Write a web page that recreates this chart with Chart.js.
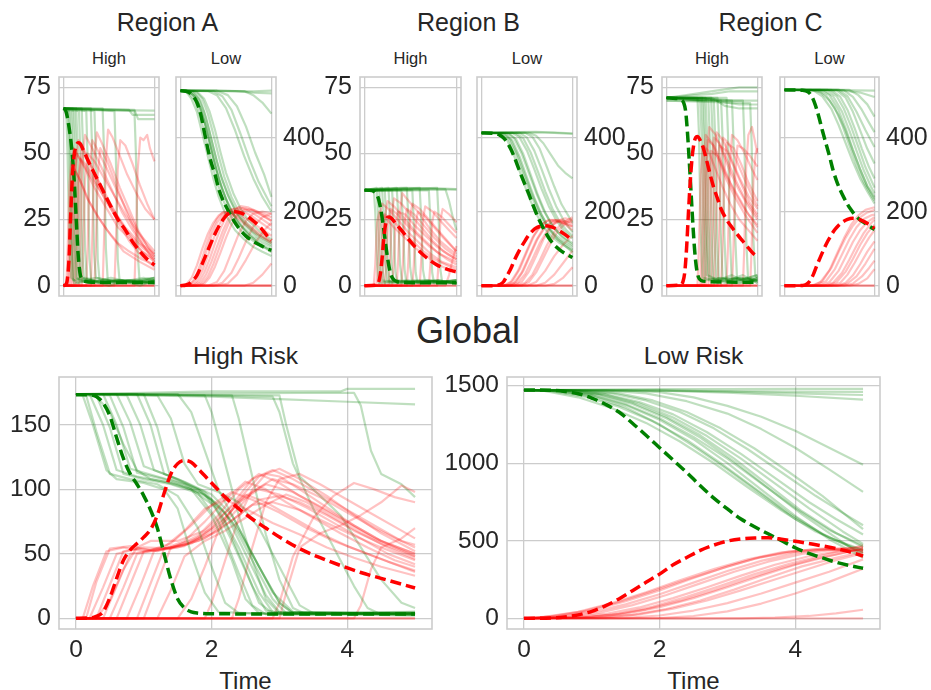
<!DOCTYPE html>
<html>
<head>
<meta charset="utf-8">
<script src="https://cdn.jsdelivr.net/npm/chart.js@4.4.0/dist/chart.umd.min.js"></script>
<style>
  body { margin: 0; width: 931px; height: 690px; background: #fff; position: relative; overflow: hidden;
         font-family: "Liberation Sans", Arial, sans-serif; color: #262626; }
  .t { position: absolute; white-space: nowrap; transform: translateX(-50%); line-height: 1; }
</style>
</head>
<body>
<div class="t" style="left:167.5px;top:10px;font-size:25px">Region A</div>
<div class="t" style="left:468.5px;top:10px;font-size:25px">Region B</div>
<div class="t" style="left:770.5px;top:10px;font-size:25px">Region C</div>
<div class="t" style="left:109px;top:50px;font-size:16.5px">High</div>
<div class="t" style="left:226px;top:50px;font-size:16.5px">Low</div>
<div class="t" style="left:410.5px;top:50px;font-size:16.5px">High</div>
<div class="t" style="left:527px;top:50px;font-size:16.5px">Low</div>
<div class="t" style="left:712px;top:50px;font-size:16.5px">High</div>
<div class="t" style="left:829.5px;top:50px;font-size:16.5px">Low</div>
<div class="t" style="left:468px;top:313px;font-size:36px">Global</div>
<div class="t" style="left:245.5px;top:344px;font-size:24.5px">High Risk</div>
<div class="t" style="left:693.5px;top:344px;font-size:24.5px">Low Risk</div>
<div class="t" style="left:245.5px;top:669px;font-size:24px">Time</div>
<div class="t" style="left:693.5px;top:669px;font-size:24px">Time</div>
<script>
// tick positions
const xTicksTop = [0, 5];
const xTicksBottom = [0, 2, 4];
const yTicksHigh = [0, 25, 50, 75];
const yTicksLow = [0, 200, 400];
const yTicksGlobalHigh = [0, 50, 100, 150];
const yTicksGlobalLow = [0, 500, 1000, 1500];

// every series is a flat list: t, value, t, value, ...
// S = green (susceptible), I = red (infected), mean = dashed curves

// ---- Region A, High ----
const aHighMeanS = [0,67, 0.1,66.5, 0.2,64, 0.3,60, 0.4,55, 0.5,48, 0.6,38, 0.7,25, 0.8,12, 0.9,5, 1.0,2.5, 1.2,1.6, 1.6,1.3, 5,1.2];
const aHighMeanI = [0,0, 0.1,0.3, 0.2,2, 0.3,10, 0.4,28, 0.5,43, 0.6,50, 0.7,53, 0.8,54, 0.9,53.8, 1.1,51, 1.4,46.5, 1.8,41, 2.2,35.5, 2.6,30, 3.0,25, 3.4,21, 3.8,16.5, 4.2,13, 4.6,10, 5.0,7.8];
const aHighS = [
  [0,67, 0.15,66, 0.22,50, 0.32,15, 0.42,3, 0.8,1, 1.5,2, 2.5,0, 3.5,2, 5,1],
  [0,67, 0.25,66, 0.32,52, 0.42,18, 0.52,2, 1.2,3, 2.2,1, 3.2,2, 4.2,0, 5,2],
  [0,67, 0.3,67, 0.38,48, 0.48,12, 0.58,1, 1.5,2, 3,1, 5,3],
  [0,67, 0.4,66, 0.48,50, 0.58,16, 0.68,3, 1.4,1, 2.6,3, 4,1, 5,1],
  [0,67, 0.5,67, 0.58,45, 0.68,10, 0.78,2, 2,1, 3,2, 4.5,1, 5,2],
  [0,67, 0.6,66, 0.68,48, 0.78,14, 0.88,2, 1.8,3, 3.2,1, 5,2],
  [0,67, 0.7,67, 0.78,50, 0.88,15, 0.98,3, 2,1, 3.6,2, 5,1],
  [0,67, 0.85,66, 0.93,48, 1.03,12, 1.13,2, 2.4,2, 4,1, 5,3],
  [0,67, 1.0,67, 1.08,50, 1.18,14, 1.28,2, 2.8,1, 4.4,3, 5,2],
  [0,67, 1.25,66, 1.33,46, 1.43,10, 1.53,1, 3,2, 5,1],
  [0,67, 1.5,67, 1.58,50, 1.68,12, 1.78,3, 3.4,1, 5,2],
  [0,67, 1.7,66, 1.78,48, 1.88,10, 1.98,2, 3.8,2, 5,1],
  [0,67, 2.15,67, 2.23,50, 2.33,14, 2.43,2, 4,2, 5,3],
  [0,67, 2.8,66, 2.88,48, 2.98,10, 3.08,2, 4.3,1, 5,2],
  [0,67, 3.9,66, 3.98,50, 4.08,12, 4.18,2, 5,2],
  [0,67, 2,66.5, 4,66.3, 5,66.2],
  [0,67, 3.6,66.5, 3.8,64.6, 5,64.6],
  [0,67, 3.9,66.5, 4.1,63, 5,63]
];
const aHighI = [
  [0,0, 0.15,0, 0.22,12, 0.32,38, 0.42,47, 0.6,44, 0.9,40, 1.3,33, 1.8,27, 2.4,21, 3,16, 3.6,13, 4.3,10, 5,8],
  [0,0, 0.25,0, 0.32,14, 0.42,40, 0.55,52, 0.8,49, 1.2,44, 1.7,37, 2.3,30, 3,22, 3.6,18, 4.3,13, 5,10],
  [0,0, 0.3,0, 0.38,16, 0.48,38, 0.6,44, 0.9,40, 1.4,32, 2,25, 2.6,19, 3.3,13, 4.2,9, 5,6],
  [0,0, 0.4,0, 0.48,14, 0.58,40, 0.72,50, 1,47, 1.5,41, 2,36, 2.7,29, 3.4,22, 4.2,16, 5,12],
  [0,0, 0.5,0, 0.58,18, 0.68,45, 0.82,55, 1.1,51, 1.6,44, 2.2,36, 2.9,27, 3.6,19, 4.3,13, 5,9],
  [0,0, 0.6,0, 0.68,15, 0.78,38, 0.92,48, 1.2,46, 1.8,39, 2.4,31, 3,25, 3.8,18, 4.4,14, 5,11],
  [0,0, 0.7,0, 0.78,17, 0.88,42, 1.02,53, 1.3,49, 1.8,41, 2.4,32, 3,24, 3.6,17, 4.3,11, 5,7],
  [0,0, 0.85,0, 0.93,18, 1.03,46, 1.18,57, 1.5,53, 2,46, 2.6,37, 3.2,28, 3.8,21, 4.4,15, 5,10],
  [0,0, 1.0,0, 1.08,15, 1.18,40, 1.32,50, 1.7,47, 2.2,41, 2.8,34, 3.4,27, 4,21, 4.5,17, 5,13],
  [0,0, 1.25,0, 1.33,16, 1.43,44, 1.58,55, 1.9,51, 2.4,44, 3,35, 3.6,27, 4.2,19, 4.6,15, 5,12],
  [0,0, 1.5,0, 1.58,18, 1.68,47, 1.83,58, 2.1,54, 2.6,46, 3.1,37, 3.6,29, 4.1,21, 4.6,15, 5,11],
  [0,0, 1.7,0, 1.78,15, 1.88,42, 2.02,52, 2.4,47, 2.9,38, 3.4,29, 3.9,21, 4.5,14, 5,9],
  [0,0, 2.15,0, 2.23,18, 2.33,48, 2.45,59, 2.7,56, 3.1,49, 3.5,42, 4,35, 4.5,29, 5,25],
  [0,0, 2.8,0, 2.88,16, 2.98,44, 3.12,55, 3.4,53, 3.8,46, 4.2,38, 4.6,31, 5,25],
  [0,0, 3.9,0, 3.98,17, 4.08,44, 4.22,56, 4.4,55, 4.6,57, 4.75,52, 4.9,49, 5,47],
  [0,0, 5,0], [0,0, 5,0], [0,0, 5,0]
];

// ---- Region A, Low ----
const aLowMeanS = [0,527, 0.4,524, 0.7,512, 0.9,495, 1.1,465, 1.3,418, 1.5,370, 1.7,330, 1.9,300, 2.1,262, 2.3,235, 2.6,205, 2.9,178, 3.2,156, 3.6,134, 4.0,120, 4.4,109, 4.8,99, 5,96];
const aLowMeanI = [0,0, 0.3,2, 0.6,10, 0.9,28, 1.2,60, 1.5,95, 1.8,130, 2.1,160, 2.4,183, 2.7,197, 3.0,200, 3.3,197, 3.6,190, 4.0,175, 4.4,157, 4.8,133, 5,123];
const aLowS = [
  [0,527, 0.3,525, 0.6,505, 0.9,470, 1.2,410, 1.5,350, 1.8,290, 2.1,240, 2.5,190, 3,150, 3.5,125, 4,105, 4.5,92, 5,80],
  [0,527, 0.4,524, 0.8,500, 1.1,455, 1.4,395, 1.7,335, 2,280, 2.4,225, 2.8,185, 3.3,150, 3.8,128, 4.4,108, 5,95],
  [0,527, 0.5,525, 0.9,505, 1.2,465, 1.5,410, 1.8,345, 2.1,290, 2.5,235, 2.9,195, 3.4,160, 4,132, 4.5,117, 5,105],
  [0,527, 0.6,526, 1.0,505, 1.3,468, 1.6,415, 1.9,355, 2.2,300, 2.6,245, 3,205, 3.5,170, 4,145, 4.5,128, 5,115],
  [0,527, 0.7,525, 1.1,500, 1.4,455, 1.7,395, 2,335, 2.3,285, 2.7,235, 3.1,195, 3.6,160, 4.2,132, 5,110],
  [0,527, 0.5,524, 0.8,510, 1.1,480, 1.4,430, 1.7,370, 2,310, 2.3,260, 2.7,210, 3.2,168, 3.8,135, 4.4,112, 5,98],
  [0,527, 0.8,526, 1.2,505, 1.5,465, 1.8,410, 2.1,350, 2.4,295, 2.8,240, 3.2,200, 3.7,165, 4.3,138, 5,118],
  [0,527, 0.9,525, 1.3,505, 1.6,470, 1.9,420, 2.2,360, 2.5,305, 2.9,250, 3.3,208, 3.8,172, 4.4,145, 5,125],
  [0,527, 0.4,526, 0.7,515, 1.0,490, 1.3,445, 1.6,385, 1.9,325, 2.2,272, 2.6,220, 3.1,175, 3.7,140, 4.3,115, 5,90],
  [0,527, 1.5,526, 2,515, 2.5,480, 3,420, 3.5,350, 4,290, 4.5,240, 5,200],
  [0,527, 1.8,526, 2.3,512, 2.8,475, 3.3,410, 3.8,340, 4.3,280, 5,215],
  [0,527, 2.0,527, 2.6,515, 3.1,485, 3.6,430, 4.1,360, 4.6,300, 5,240],
  [0,527, 2,527, 3,526, 4,525, 5,527],
  [0,527, 3,526, 3.5,524, 4,522, 5,520],
  [0,527, 3.5,526, 4,515, 4.5,495, 5,465]
];
const aLowI = [
  [0,0, 0.3,3, 0.6,20, 0.9,55, 1.2,100, 1.5,140, 1.8,170, 2.1,190, 2.4,200, 2.8,195, 3.2,180, 3.7,160, 4.2,140, 4.6,128, 5,115],
  [0,0, 0.5,2, 0.8,15, 1.1,45, 1.4,90, 1.7,135, 2,170, 2.3,190, 2.6,200, 3,198, 3.4,188, 3.9,172, 4.4,155, 5,135],
  [0,0, 0.6,1, 0.9,12, 1.2,40, 1.5,80, 1.8,125, 2.1,162, 2.4,190, 2.7,205, 3.1,208, 3.5,200, 4,185, 4.5,168, 5,150],
  [0,0, 0.7,1, 1.0,10, 1.3,35, 1.6,72, 1.9,115, 2.2,155, 2.5,185, 2.8,205, 3.2,212, 3.6,206, 4.1,192, 4.6,176, 5,162],
  [0,0, 0.8,0, 1.1,8, 1.4,30, 1.7,65, 2,105, 2.3,145, 2.6,178, 2.9,200, 3.3,215, 3.7,212, 4.2,200, 4.7,185, 5,176],
  [0,0, 0.9,0, 1.2,6, 1.5,25, 1.8,58, 2.1,98, 2.4,140, 2.7,175, 3.0,198, 3.4,210, 3.9,205, 4.4,192, 5,175],
  [0,0, 0.5,3, 0.8,20, 1.1,60, 1.4,108, 1.7,150, 2,180, 2.3,197, 2.7,200, 3.1,190, 3.6,170, 4.1,150, 4.6,132, 5,120],
  [0,0, 1,0, 1.3,5, 1.6,22, 1.9,52, 2.2,90, 2.5,130, 2.8,165, 3.1,190, 3.5,205, 4,205, 4.5,195, 5,185],
  [0,0, 1.5,0, 2,10, 2.4,40, 2.8,90, 3.2,140, 3.6,175, 4,195, 4.5,200, 5,195],
  [0,0, 1.8,0, 2.3,8, 2.8,35, 3.2,75, 3.6,120, 4,160, 4.5,185, 5,195],
  [0,0, 2,0, 2.6,6, 3.1,30, 3.6,70, 4.1,115, 4.6,150, 5,170],
  [0,0, 3.5,0, 4,8, 4.5,30, 5,60],
  [0,0, 5,0], [0,0, 5,0], [0,0, 5,0]
];

// ---- Region B, High ----
const bHighMeanS = [0,36.2, 0.4,36, 0.6,35, 0.75,33, 0.85,30, 0.95,26, 1.05,21, 1.15,15.5, 1.25,10.5, 1.35,6.5, 1.45,3.8, 1.6,2.2, 1.8,1.5, 2.2,1.2, 5,1.1];
const bHighMeanI = [0,0, 0.6,0.2, 0.75,1, 0.85,4, 0.95,10, 1.05,18, 1.15,23.5, 1.25,25.8, 1.35,26, 1.5,25.2, 1.75,23, 2.0,21, 2.4,17.5, 2.8,14.3, 3.2,11.6, 3.6,9.4, 4.0,7.6, 4.5,6.2, 5,5.2];
const bHighS = [
  [0,36, 0.5,36.5, 0.58,28, 0.68,8, 0.78,1, 1.8,2, 3,1, 4,2, 5,1],
  [0,36, 0.65,37, 0.73,27, 0.83,7, 0.93,2, 2,1, 3.5,2, 5,1],
  [0,36, 0.8,36, 0.88,26, 0.98,6, 1.08,1, 2.4,2, 3.8,1, 5,2],
  [0,36, 0.95,37, 1.03,27, 1.13,8, 1.23,2, 2.6,1, 4,2, 5,1],
  [0,36, 1.1,36, 1.18,25, 1.28,6, 1.38,1, 3,2, 5,1],
  [0,36, 1.3,37, 1.38,26, 1.48,7, 1.58,2, 3.2,1, 5,2],
  [0,36, 1.5,36, 1.58,24, 1.68,5, 1.78,1, 3.4,2, 5,1],
  [0,36, 1.75,37, 1.83,27, 1.93,8, 2.03,2, 3.6,1, 5,2],
  [0,36, 2.0,36, 2.08,25, 2.18,6, 2.28,1, 4,2, 5,1],
  [0,36, 2.3,37, 2.38,26, 2.48,7, 2.58,2, 5,1],
  [0,36, 2.6,36, 2.68,24, 2.78,5, 2.88,1, 5,2],
  [0,36, 3.0,37, 3.08,26, 3.18,6, 3.28,2, 5,1],
  [0,36, 3.5,36, 3.58,25, 3.68,5, 3.78,1, 5,2],
  [0,36, 3.95,37, 4.03,26, 4.13,6, 4.23,1, 5,1],
  [0,36, 4.4,36.5, 4.6,32, 4.8,26, 5,21],
  [0,36, 2,37, 4,36.8, 5,36.5],
  [0,36, 2.5,36.5, 5,36.3]
];
const bHighI = [
  [0,0, 0.5,0, 0.58,8, 0.68,24, 0.8,28, 1.1,26, 1.6,22, 2.2,18, 2.8,14, 3.4,11, 4,8, 4.6,6, 5,5],
  [0,0, 0.65,0, 0.73,9, 0.83,26, 0.95,31, 1.3,29, 1.8,25, 2.4,20, 3,16, 3.6,12, 4.2,9, 5,7],
  [0,0, 0.8,0, 0.88,8, 0.98,23, 1.1,27, 1.5,25, 2,21, 2.6,17, 3.2,13, 3.8,10, 4.4,8, 5,6],
  [0,0, 0.95,0, 1.03,9, 1.13,27, 1.25,32, 1.6,30, 2.1,26, 2.7,21, 3.3,17, 3.9,13, 4.5,10, 5,8],
  [0,0, 1.1,0, 1.18,8, 1.28,24, 1.4,29, 1.8,27, 2.3,23, 2.9,19, 3.5,15, 4.1,12, 5,9],
  [0,0, 1.3,0, 1.38,9, 1.48,27, 1.6,33, 2,31, 2.5,27, 3.1,22, 3.7,17, 4.3,13, 5,10],
  [0,0, 1.5,0, 1.58,8, 1.68,23, 1.8,28, 2.2,27, 2.7,23, 3.3,19, 3.9,15, 4.5,12, 5,10],
  [0,0, 1.75,0, 1.83,10, 1.93,28, 2.05,35, 2.4,32, 2.9,28, 3.5,22, 4.1,17, 4.6,14, 5,12],
  [0,0, 2.0,0, 2.08,8, 2.18,24, 2.3,29, 2.7,27, 3.2,23, 3.8,18, 4.4,14, 5,11],
  [0,0, 2.3,0, 2.38,9, 2.48,26, 2.6,31, 3,29, 3.5,25, 4,21, 4.5,17, 5,13],
  [0,0, 2.6,0, 2.68,8, 2.78,23, 2.9,28, 3.3,26, 3.8,22, 4.3,18, 5,13],
  [0,0, 3.0,0, 3.08,9, 3.18,25, 3.3,30, 3.7,28, 4.2,24, 4.6,21, 5,18],
  [0,0, 3.5,0, 3.58,8, 3.68,24, 3.8,28, 4.2,26, 4.6,23, 5,20],
  [0,0, 3.95,0, 4.03,9, 4.13,25, 4.25,29, 4.6,27, 5,24],
  [0,0, 4.4,0, 4.6,4, 4.8,10, 5,15],
  [0,0, 5,0], [0,0, 5,0]
];

// ---- Region B, Low ----
const bLowMeanS = [0,413, 0.6,412, 1.0,407, 1.2,400, 1.4,388, 1.6,370, 1.8,348, 2.0,322, 2.2,296, 2.4,272, 2.6,248, 2.8,222, 3.0,197, 3.2,175, 3.4,155, 3.6,137, 3.8,122, 4.0,110, 4.3,97, 4.6,87, 5,76];
const bLowMeanI = [0,0, 0.8,0.5, 1.0,3, 1.2,10, 1.4,27, 1.6,45, 1.8,68, 2.0,88, 2.2,106, 2.4,122, 2.6,137, 2.8,148, 3.0,156, 3.2,160, 3.4,162, 3.7,161, 4.0,156, 4.3,148, 4.6,138, 5,123];
const bLowS = [
  [0,413, 1.0,412, 1.4,395, 1.8,350, 2.2,295, 2.6,240, 3,195, 3.4,160, 3.8,135, 4.3,115, 5,95],
  [0,413, 1.2,412, 1.6,395, 2,352, 2.4,298, 2.8,245, 3.2,200, 3.6,165, 4,140, 4.5,120, 5,105],
  [0,413, 1.4,413, 1.8,398, 2.2,358, 2.6,305, 3,252, 3.4,205, 3.8,170, 4.2,145, 4.6,128, 5,115],
  [0,413, 1.5,412, 1.9,396, 2.3,355, 2.7,300, 3.1,245, 3.5,198, 3.9,162, 4.4,132, 5,110],
  [0,413, 1.7,413, 2.1,400, 2.5,365, 2.9,315, 3.3,262, 3.7,215, 4.1,178, 4.5,150, 5,128],
  [0,413, 1.9,412, 2.3,398, 2.7,360, 3.1,308, 3.5,255, 3.9,208, 4.3,172, 4.7,148, 5,135],
  [0,413, 1.3,412, 1.7,392, 2.1,348, 2.5,292, 2.9,238, 3.3,192, 3.7,155, 4.2,125, 5,98],
  [0,413, 2.1,413, 2.5,400, 2.9,365, 3.3,315, 3.7,262, 4.1,215, 4.5,178, 5,145],
  [0,413, 1.1,412, 1.5,396, 1.9,355, 2.3,300, 2.7,248, 3.1,202, 3.5,166, 4,134, 4.5,112, 5,90],
  [0,413, 2.6,413, 3,405, 3.4,385, 3.8,355, 4.2,325, 4.6,305, 5,290],
  [0,413, 2.4,413, 2.8,402, 3.2,370, 3.6,320, 4,268, 4.4,220, 5,170],
  [0,413, 2,415, 3,416, 4,414, 5,412],
  [0,413, 3,414, 4,413, 5,410]
];
const bLowI = [
  [0,0, 1.2,0, 1.6,10, 2,40, 2.4,85, 2.8,130, 3.2,160, 3.6,175, 4,178, 4.5,170, 5,160],
  [0,0, 1.4,0, 1.8,8, 2.2,35, 2.6,78, 3,122, 3.4,155, 3.8,172, 4.2,178, 4.6,174, 5,166],
  [0,0, 1.6,0, 2,8, 2.4,32, 2.8,72, 3.2,115, 3.6,148, 4,168, 4.4,176, 5,172],
  [0,0, 1.8,0, 2.2,10, 2.6,38, 3,80, 3.4,125, 3.8,158, 4.2,176, 4.6,182, 5,178],
  [0,0, 1.3,0, 1.7,12, 2.1,45, 2.5,92, 2.9,136, 3.3,165, 3.7,178, 4.1,177, 4.6,165, 5,150],
  [0,0, 2.0,0, 2.4,8, 2.8,30, 3.2,68, 3.6,110, 4,145, 4.4,168, 5,185],
  [0,0, 2.2,0, 2.6,10, 3,36, 3.4,75, 3.8,115, 4.2,148, 4.6,168, 5,178],
  [0,0, 1.5,0, 1.9,10, 2.3,40, 2.7,85, 3.1,128, 3.5,158, 3.9,172, 4.4,172, 5,160],
  [0,0, 2.5,0, 3,10, 3.5,40, 4,80, 4.5,112, 5,135],
  [0,0, 3,0, 3.5,8, 4,30, 4.5,62, 5,95],
  [0,0, 3.5,0, 4,5, 4.5,22, 5,50],
  [0,0, 5,0], [0,0, 5,0]
];

// ---- Region C, High ----
const cHighMeanS = [0,71, 0.5,70.8, 0.8,70.3, 0.95,69, 1.05,66, 1.15,58, 1.25,47, 1.35,35, 1.45,23, 1.55,13, 1.65,6.5, 1.75,3.3, 1.9,2, 2.2,1.6, 3,1.4, 5,1.3];
const cHighMeanI = [0,0, 0.8,0.3, 0.9,1.5, 1.0,5, 1.1,14, 1.2,27, 1.3,39, 1.4,48, 1.5,53.5, 1.6,56, 1.7,56.4, 1.85,55, 2.0,52.5, 2.2,47.5, 2.4,42, 2.6,37, 2.8,33, 3.0,29, 3.3,25, 3.6,22, 3.9,19.3, 4.2,16.8, 4.5,14.3, 4.8,12, 5,11];
const cHighS = [
  [0,71, 1.7,71, 1.78,58, 1.88,20, 1.98,3, 2.8,2, 3.6,4, 4.4,1, 5,3],
  [0,71, 1.85,70, 1.93,56, 2.03,18, 2.13,2, 3,3, 3.8,1, 5,2],
  [0,71, 1.95,71, 2.03,58, 2.13,22, 2.23,4, 3.2,1, 4,3, 5,2],
  [0,71, 2.05,70, 2.13,55, 2.23,17, 2.33,2, 3.4,2, 4.2,4, 5,1],
  [0,71, 2.15,71, 2.23,57, 2.33,20, 2.43,3, 3.6,1, 4.5,3, 5,2],
  [0,71, 2.3,70, 2.38,56, 2.48,19, 2.58,2, 3.8,3, 5,2],
  [0,71, 2.45,71, 2.53,58, 2.63,21, 2.73,3, 4,2, 5,4],
  [0,71, 2.6,70, 2.68,55, 2.78,18, 2.88,2, 4,1, 5,2],
  [0,71, 2.8,71, 2.88,57, 2.98,20, 3.08,3, 4.2,2, 5,3],
  [0,71, 3.0,70, 3.08,56, 3.18,19, 3.28,2, 4.4,3, 5,1],
  [0,71, 3.3,71, 3.38,57, 3.48,20, 3.58,3, 4.6,2, 5,3],
  [0,71, 3.6,70, 3.68,55, 3.78,18, 3.88,2, 5,2],
  [0,70, 4.2,70, 4.28,55, 4.38,18, 4.48,3, 5,4],
  [0,70, 4.6,69, 4.68,54, 4.78,17, 4.88,4, 5,3],
  [0,71, 1,72, 2,73, 3,74, 4,75, 5,75],
  [0,71, 1.5,72, 2.5,72.5, 3.5,73.5, 5,73.5],
  [0,71, 1.5,71, 2.5,70.5, 3.5,70, 5,70],
  [0,71, 2,71, 3,69.5, 4,68.5, 5,68.5],
  [0,71, 2.5,71, 3.2,68, 4,67, 5,67]
];
const cHighI = [
  [0,0, 1.7,0, 1.78,14, 1.88,42, 2.0,53, 2.3,51, 2.7,44, 3.1,37, 3.5,31, 4,25, 4.5,21, 5,17],
  [0,0, 1.85,0, 1.93,15, 2.03,45, 2.15,57, 2.5,54, 2.9,47, 3.3,40, 3.8,33, 4.3,27, 5,20],
  [0,0, 1.95,0, 2.03,14, 2.13,43, 2.25,55, 2.6,53, 3,47, 3.5,39, 4,33, 4.5,27, 5,23],
  [0,0, 2.05,0, 2.13,16, 2.23,47, 2.35,60, 2.7,57, 3.1,50, 3.5,43, 4,36, 4.5,30, 5,25],
  [0,0, 2.15,0, 2.23,13, 2.33,40, 2.45,51, 2.8,49, 3.2,43, 3.7,36, 4.2,30, 5,22],
  [0,0, 2.3,0, 2.38,15, 2.48,45, 2.6,56, 2.9,54, 3.3,48, 3.8,40, 4.3,33, 5,26],
  [0,0, 2.45,0, 2.53,16, 2.63,46, 2.75,58, 3.1,55, 3.5,49, 4,41, 4.5,34, 5,29],
  [0,0, 2.6,0, 2.68,14, 2.78,42, 2.9,53, 3.3,51, 3.7,45, 4.2,37, 4.6,31, 5,27],
  [0,0, 2.8,0, 2.88,15, 2.98,45, 3.1,56, 3.4,54, 3.8,48, 4.3,40, 4.7,34, 5,30],
  [0,0, 3.0,0, 3.08,14, 3.18,43, 3.3,54, 3.7,52, 4.1,46, 4.5,39, 5,32],
  [0,0, 3.3,0, 3.38,15, 3.48,45, 3.6,57, 3.9,55, 4.3,50, 4.7,44, 5,40],
  [0,0, 3.6,0, 3.68,14, 3.78,42, 3.9,53, 4.2,52, 4.6,49, 5,45],
  [0,0, 4.2,0, 4.28,15, 4.38,45, 4.5,57, 4.7,60, 4.85,55, 5,50],
  [0,0, 4.6,0, 4.68,14, 4.78,40, 4.9,50, 5,52],
  [0,0, 5,0], [0,0, 5,0], [0,0, 5,0]
];

// ---- Region C, Low ----
const cLowMeanS = [0,529, 1.0,528, 1.3,524, 1.5,513, 1.7,490, 1.9,458, 2.1,420, 2.3,385, 2.5,350, 2.7,312, 2.9,282, 3.1,258, 3.3,238, 3.5,220, 3.7,205, 3.9,192, 4.2,178, 4.5,168, 4.8,158, 5,152];
const cLowMeanI = [0,0, 1.0,0.5, 1.2,3, 1.4,12, 1.6,30, 1.8,55, 2.0,78, 2.2,100, 2.4,120, 2.6,137, 2.8,152, 3.0,163, 3.2,171, 3.5,179, 3.8,182, 4.1,180, 4.4,174, 4.7,165, 5,155];
const cLowS = [
  [0,529, 1.8,528, 2.3,515, 2.8,480, 3.2,435, 3.6,380, 4,325, 4.4,280, 4.8,245, 5,230],
  [0,529, 2.0,529, 2.5,515, 3,475, 3.4,425, 3.8,368, 4.2,315, 4.6,268, 5,235],
  [0,529, 2.2,528, 2.7,512, 3.2,470, 3.6,420, 4,365, 4.4,312, 4.8,268, 5,250],
  [0,529, 2.4,529, 2.9,512, 3.3,478, 3.7,430, 4.1,375, 4.5,320, 5,265],
  [0,529, 1.6,528, 2.1,512, 2.6,478, 3,435, 3.4,385, 3.8,335, 4.2,290, 4.6,255, 5,222],
  [0,529, 2.6,529, 3.1,510, 3.5,475, 3.9,425, 4.3,370, 4.7,320, 5,290],
  [0,529, 2.9,528, 3.4,508, 3.8,470, 4.2,420, 4.6,370, 5,330],
  [0,529, 3.0,529, 3.5,512, 4,470, 4.5,420, 5,375],
  [0,529, 3.3,528, 3.8,510, 4.3,475, 4.7,440, 5,415],
  [0,529, 3.6,529, 4.1,515, 4.6,490, 5,457],
  [0,529, 2,530, 4,528, 5,527],
  [0,529, 3,529, 4.2,522, 5,510],
  [0,529, 1.5,529, 2,522, 2.5,500, 3,462, 3.4,418, 3.8,365, 4.2,315, 4.6,270, 5,240]
];
const cLowI = [
  [0,0, 1.8,0, 2.3,12, 2.8,45, 3.2,85, 3.6,125, 4,158, 4.4,180, 4.8,190, 5,192],
  [0,0, 2.0,0, 2.5,10, 3,40, 3.4,78, 3.8,118, 4.2,150, 4.6,172, 5,185],
  [0,0, 2.2,0, 2.7,8, 3.2,35, 3.6,70, 4,108, 4.4,142, 4.8,168, 5,178],
  [0,0, 2.4,0, 2.9,10, 3.4,38, 3.8,72, 4.2,110, 4.6,142, 5,165],
  [0,0, 1.6,0, 2.1,12, 2.6,48, 3,90, 3.4,130, 3.8,162, 4.2,185, 4.6,198, 5,205],
  [0,0, 2.6,0, 3.1,8, 3.5,30, 3.9,62, 4.3,98, 4.7,130, 5,150],
  [0,0, 2.9,0, 3.4,8, 3.8,28, 4.2,58, 4.6,92, 5,120],
  [0,0, 3.0,0, 3.5,6, 4,25, 4.5,60, 5,100],
  [0,0, 3.3,0, 3.8,6, 4.3,25, 4.7,48, 5,68],
  [0,0, 3.6,0, 4.1,5, 4.6,20, 5,45],
  [0,0, 5,0], [0,0, 5,0],
  [0,0, 1.5,0, 2,10, 2.5,42, 2.9,85, 3.3,128, 3.7,165, 4.1,190, 4.5,205, 5,212]
];

// ---- Global, High Risk ----
const gHighMeanS = [0,173.5, 0.2,173.3, 0.3,172, 0.4,167, 0.5,157, 0.6,140, 0.7,124, 0.8,112, 0.9,104, 1.0,95, 1.1,84, 1.2,70, 1.3,50, 1.4,30, 1.5,15, 1.6,8, 1.7,5, 1.8,4, 2.0,3.5, 3,3.4, 4,3.3, 5,3.3];
const gHighMeanI = [0,0, 0.2,0.3, 0.3,1.5, 0.4,5, 0.5,16, 0.6,31, 0.7,45, 0.8,53, 0.9,58, 1.0,63, 1.1,69, 1.2,80, 1.3,97, 1.4,112, 1.5,120, 1.6,122.5, 1.7,121, 1.8,116, 2.0,105, 2.2,94, 2.4,85, 2.6,77, 2.8,70, 3.0,63, 3.3,54, 3.6,47, 3.9,41, 4.2,35.5, 4.5,31, 4.8,26.5, 5,23.5];
const gHighS = [
  [0,174, 0.1,173, 0.25,150, 0.45,115, 0.6,108, 1.0,105, 1.3,100, 1.5,85, 1.7,50, 1.9,20, 2.1,5, 3,3, 4,4, 5,3],
  [0,174, 0.15,173, 0.3,145, 0.5,112, 0.8,108, 1.2,104, 1.5,95, 1.8,70, 2.0,40, 2.2,12, 2.4,4, 3.5,3, 5,5],
  [0,174, 0.2,174, 0.4,150, 0.6,115, 0.9,110, 1.3,106, 1.7,100, 2.0,80, 2.3,45, 2.5,15, 2.7,4, 4,3, 5,2],
  [0,174, 0.3,173, 0.5,148, 0.7,112, 1,108, 1.4,104, 1.8,97, 2.1,75, 2.4,35, 2.6,10, 2.8,3, 5,4],
  [0,174, 0.4,174, 0.6,150, 0.8,116, 1.2,110, 1.6,104, 2.0,92, 2.3,60, 2.6,25, 2.8,6, 3.2,3, 5,3],
  [0,174, 0.5,173, 0.7,148, 0.9,113, 1.3,108, 1.7,100, 2.1,85, 2.4,55, 2.7,20, 2.9,5, 5,4],
  [0,174, 0.6,174, 0.8,152, 1.0,118, 1.4,110, 1.8,100, 2.2,82, 2.5,50, 2.8,18, 3.0,5, 5,3],
  [0,174, 0.75,173, 0.95,150, 1.15,115, 1.5,108, 1.9,98, 2.3,75, 2.6,45, 2.9,15, 3.1,4, 5,5],
  [0,174, 0.9,174, 1.1,150, 1.3,112, 1.6,106, 2.0,96, 2.3,80, 2.6,50, 2.9,20, 3.2,5, 5,3],
  [0,174, 1.0,174, 1.2,148, 1.4,108, 1.8,100, 2.1,88, 2.4,68, 2.7,40, 3.0,12, 3.2,4, 5,4],
  [0,174, 1.2,173, 1.4,155, 1.6,120, 1.8,104, 2.1,98, 2.4,90, 2.7,70, 3.0,40, 3.3,10, 3.5,4, 5,3],
  [0,174, 1.5,174, 1.7,160, 1.9,130, 2.1,100, 2.4,70, 2.7,40, 3.0,12, 3.2,4, 5,4],
  [0,174, 1.9,173, 2.0,160, 2.2,120, 2.4,80, 2.6,45, 2.8,15, 3.0,4, 5,3],
  [0,174, 2.3,173, 2.4,155, 2.6,110, 2.8,65, 3.0,30, 3.2,8, 3.4,3, 5,4],
  [0,174, 2.9,172, 3.0,160, 3.2,120, 3.5,85, 3.8,55, 4.1,25, 4.3,8, 4.5,3, 5,4],
  [0,174, 3.0,173, 3.1,150, 3.3,110, 3.6,95, 3.9,80, 4.2,55, 4.5,30, 4.8,12, 5,8],
  [0,174, 4.1,175, 4.2,165, 4.35,130, 4.5,112, 4.8,104, 5,94],
  [0,174, 1,175, 2,176, 3,176, 3.9,176, 4,178, 5,178],
  [0,174, 1,173, 2,172, 3,170, 4,168, 5,166],
  [0,174, 0.3,172, 0.5,160, 0.7,135, 0.9,115, 1.1,108, 1.5,104, 1.9,96, 2.2,75, 2.5,38, 2.7,12, 2.9,4, 5,3]
];
const gHighI = [
  [0,0, 0.1,0, 0.25,25, 0.45,52, 0.7,55, 1.0,52, 1.3,55, 1.6,68, 1.9,85, 2.2,92, 2.5,85, 2.9,74, 3.3,65, 3.7,55, 4.1,47, 4.5,40, 5,33],
  [0,0, 0.15,0, 0.3,28, 0.5,54, 0.8,56, 1.1,53, 1.4,58, 1.7,72, 2.0,88, 2.3,98, 2.6,92, 3,82, 3.4,70, 3.8,60, 4.2,52, 4.6,44, 5,37],
  [0,0, 0.2,0, 0.4,24, 0.6,50, 0.9,54, 1.2,52, 1.6,60, 1.9,75, 2.2,92, 2.5,106, 2.8,100, 3.1,90, 3.5,78, 3.9,66, 4.3,55, 4.7,45, 5,40],
  [0,0, 0.3,0, 0.5,26, 0.7,52, 1.0,55, 1.4,54, 1.8,64, 2.1,80, 2.4,100, 2.7,112, 3.0,105, 3.3,95, 3.7,84, 4.1,72, 4.5,60, 5,48],
  [0,0, 0.4,0, 0.6,25, 0.8,50, 1.2,53, 1.6,56, 2.0,70, 2.3,88, 2.6,108, 2.9,115, 3.2,108, 3.6,96, 4,84, 4.4,72, 4.8,60, 5,55],
  [0,0, 0.5,0, 0.7,24, 0.9,50, 1.3,54, 1.7,58, 2.1,72, 2.4,90, 2.7,100, 3.0,96, 3.4,86, 3.8,74, 4.2,62, 4.6,50, 5,42],
  [0,0, 0.6,0, 0.8,26, 1.0,52, 1.4,55, 1.8,62, 2.2,78, 2.5,95, 2.8,104, 3.2,98, 3.6,86, 4,74, 4.4,62, 5,50],
  [0,0, 0.75,0, 0.95,25, 1.15,52, 1.5,55, 1.9,62, 2.3,76, 2.6,88, 2.9,90, 3.3,84, 3.7,74, 4.1,64, 4.5,55, 5,45],
  [0,0, 0.9,0, 1.1,27, 1.3,54, 1.6,57, 2.0,66, 2.3,80, 2.6,98, 2.9,108, 3.2,104, 3.6,94, 4,82, 4.4,70, 4.8,60, 5,57],
  [0,0, 1.0,0, 1.2,28, 1.4,55, 1.8,60, 2.1,68, 2.4,80, 2.7,92, 3.0,95, 3.3,90, 3.7,80, 4.1,68, 4.5,58, 5,48],
  [0,0, 1.2,0, 1.4,22, 1.6,48, 1.9,60, 2.2,68, 2.5,78, 2.8,88, 3.1,96, 3.4,90, 3.8,78, 4.2,66, 4.6,55, 5,46],
  [0,0, 1.5,0, 1.7,15, 1.9,40, 2.1,68, 2.4,92, 2.7,110, 3.0,116, 3.3,108, 3.7,95, 4.1,80, 4.5,66, 5,52],
  [0,0, 1.9,0, 2.0,12, 2.2,45, 2.4,78, 2.6,100, 2.8,112, 3.0,110, 3.3,100, 3.7,86, 4.1,72, 4.5,60, 5,50],
  [0,0, 2.3,0, 2.4,15, 2.6,55, 2.8,90, 3.0,108, 3.3,112, 3.6,104, 4,92, 4.4,80, 4.8,68, 5,62],
  [0,0, 2.9,0, 3.0,12, 3.2,48, 3.5,78, 3.8,95, 4.1,105, 4.4,100, 4.7,94, 5,90],
  [0,0, 3.0,0, 3.1,20, 3.3,55, 3.6,66, 3.9,72, 4.2,80, 4.5,90, 4.8,103, 5,98],
  [0,0, 4.1,0, 4.2,10, 4.35,38, 4.5,55, 4.8,62, 5,70],
  [0,0, 5,0], [0,0, 5,0],
  [0,0, 0.3,0, 0.5,14, 0.7,38, 0.9,55, 1.1,60, 1.5,60, 1.9,68, 2.2,82, 2.5,96, 2.8,90, 3.2,78, 3.6,66, 4,56, 4.4,48, 4.8,40, 5,36]
];

// ---- Global, Low Risk ----
const gLowMeanS = [0,1472, 0.4,1470, 0.6,1463, 0.8,1448, 1.0,1420, 1.2,1380, 1.4,1330, 1.6,1258, 1.8,1180, 2.0,1100, 2.2,1020, 2.4,940, 2.6,855, 2.8,775, 3.0,705, 3.2,640, 3.4,590, 3.6,545, 3.8,500, 4.0,455, 4.2,418, 4.4,390, 4.6,362, 4.8,340, 5,323];
const gLowMeanI = [0,0, 0.4,2, 0.6,8, 0.8,22, 1.0,45, 1.2,80, 1.4,125, 1.6,178, 1.8,232, 2.0,285, 2.2,345, 2.4,392, 2.6,438, 2.8,472, 3.0,498, 3.2,512, 3.4,518, 3.6,519, 3.8,510, 4.0,497, 4.2,482, 4.4,467, 4.6,450, 4.8,428, 5,402];
const gLowS = [
  [0,1472, 0.5,1465, 1,1430, 1.5,1360, 2,1250, 2.5,1110, 3,960, 3.5,800, 4,640, 4.5,520, 5,440],
  [0,1472, 0.5,1468, 1,1440, 1.5,1380, 2,1290, 2.5,1170, 3,1030, 3.5,870, 4,710, 4.5,570, 5,470],
  [0,1472, 0.6,1470, 1.1,1445, 1.6,1390, 2.1,1300, 2.6,1180, 3.1,1030, 3.6,860, 4.1,690, 4.6,550, 5,460],
  [0,1472, 0.4,1465, 0.9,1430, 1.4,1365, 1.9,1270, 2.4,1150, 2.9,1000, 3.4,840, 3.9,680, 4.4,545, 5,420],
  [0,1472, 0.7,1470, 1.2,1445, 1.7,1395, 2.2,1315, 2.7,1200, 3.2,1060, 3.7,905, 4.2,750, 4.6,640, 5,540],
  [0,1472, 0.8,1470, 1.3,1450, 1.8,1405, 2.3,1330, 2.8,1225, 3.3,1090, 3.8,940, 4.3,790, 4.7,680, 5,600],
  [0,1472, 0.5,1466, 1,1438, 1.5,1375, 2,1280, 2.5,1155, 3,1000, 3.5,830, 4,660, 4.5,510, 5,390],
  [0,1472, 0.6,1468, 1.1,1440, 1.6,1382, 2.1,1290, 2.6,1165, 3.1,1010, 3.6,840, 4.1,670, 4.6,520, 5,400],
  [0,1472, 0.9,1470, 1.4,1450, 1.9,1405, 2.4,1330, 2.9,1225, 3.4,1095, 3.9,945, 4.4,790, 5,575],
  [0,1472, 1.5,1470, 2,1458, 2.5,1425, 3,1370, 3.5,1300, 4,1210, 4.5,1100, 5,990],
  [0,1472, 1.2,1470, 1.8,1450, 2.4,1400, 3,1320, 3.5,1220, 4,1100, 4.5,960, 5,815],
  [0,1472, 1,1475, 2,1478, 3,1478, 4,1480, 5,1480],
  [0,1472, 1,1470, 2,1468, 3,1465, 4,1462, 5,1460],
  [0,1472, 2,1470, 3,1462, 4,1450, 5,1440],
  [0,1472, 2,1468, 3,1455, 4,1435, 5,1410],
  [0,1472, 0.7,1468, 1.2,1442, 1.7,1385, 2.2,1295, 2.7,1175, 3.2,1030, 3.7,870, 4.2,710, 4.7,560, 5,480],
  [0,1472, 0.3,1466, 0.8,1425, 1.3,1355, 1.8,1260, 2.3,1140, 2.8,1000, 3.3,845, 3.8,695, 4.3,560, 5,430]
];
const gLowI = [
  [0,0, 0.5,15, 1,50, 1.5,110, 2,180, 2.5,260, 3,335, 3.5,395, 4,430, 4.5,445, 5,440],
  [0,0, 0.5,10, 1,38, 1.5,90, 2,155, 2.5,230, 3,305, 3.5,370, 4,420, 4.5,450, 5,455],
  [0,0, 0.6,8, 1.1,35, 1.6,85, 2.1,150, 2.6,225, 3.1,300, 3.6,365, 4.1,415, 4.6,445, 5,460],
  [0,0, 0.7,6, 1.2,28, 1.7,70, 2.2,130, 2.7,200, 3.2,275, 3.7,345, 4.2,400, 4.6,430, 5,445],
  [0,0, 0.8,5, 1.3,22, 1.8,58, 2.3,112, 2.8,180, 3.3,255, 3.8,325, 4.3,385, 5,450],
  [0,0, 0.4,12, 0.9,48, 1.4,105, 1.9,175, 2.4,250, 2.9,320, 3.4,385, 3.9,430, 4.4,450, 5,430],
  [0,0, 1,8, 1.5,30, 2,72, 2.5,130, 3,200, 3.5,275, 4,345, 4.5,400, 5,450],
  [0,0, 1.2,5, 1.7,25, 2.2,62, 2.7,115, 3.2,180, 3.7,250, 4.2,320, 4.6,375, 5,420],
  [0,0, 1.5,3, 2,18, 2.5,50, 3,98, 3.5,160, 4,230, 4.5,300, 5,380],
  [0,0, 2,2, 2.5,15, 3,45, 3.5,95, 4,160, 4.5,235, 5,320],
  [0,0, 3.2,0, 3.7,5, 4.2,15, 4.6,32, 5,55],
  [0,0, 5,0],
  [0,0, 0.3,10, 0.8,42, 1.3,98, 1.8,168, 2.3,245, 2.8,318, 3.3,380, 3.8,425, 4.3,445, 5,440],
  [0,0, 0.9,6, 1.4,30, 1.9,75, 2.4,138, 2.9,210, 3.4,285, 3.9,350, 4.4,405, 5,470],
  [0,0, 1.1,4, 1.6,22, 2.1,60, 2.6,115, 3.1,185, 3.6,262, 4.1,335, 4.6,390, 5,430]
];

Chart.defaults.font.family = "'Liberation Sans', Arial, sans-serif";
Chart.defaults.color = '#262626';

const GRID = '#cccccc';
const S_LINE = 'rgba(0,128,0,0.25)';
const I_LINE = 'rgba(255,0,0,0.24)';

function toXY(a) {
  const p = [];
  for (let i = 0; i < a.length; i += 2) p.push({ x: a[i], y: a[i + 1] });
  return p;
}

// axes frame on all four sides, like the seaborn whitegrid style
const framePlugin = {
  id: 'frame',
  afterDatasetsDraw(chart) {
    const a = chart.chartArea, ctx = chart.ctx;
    ctx.save();
    ctx.strokeStyle = GRID;
    ctx.lineWidth = 1.6;
    ctx.strokeRect(a.left, a.top, a.right - a.left, a.bottom - a.top);
    ctx.restore();
  }
};

// fixed axis boxes, no extra room reserved for overhanging labels
function fixBox(s, size) {
  if (s.isHorizontal()) s.height = size; else s.width = size;
  s.paddingTop = 0; s.paddingBottom = 0; s.paddingLeft = 0; s.paddingRight = 0;
}

function makePanel(p) {
  const yW = 66, pad = 3;
  const xH = p.xTicks === xTicksBottom ? 40 : 0;
  const left = p.ySide === 'left' ? yW : 0;
  const right = p.ySide === 'right' ? yW : 0;
  const cv = document.createElement('canvas');
  cv.width = (p.r - p.l) + left + right + 2 * pad;
  cv.height = (p.b - p.t) + xH + 2 * pad;
  cv.style.position = 'absolute';
  cv.style.left = (p.l - left - pad) + 'px';
  cv.style.top = (p.t - pad) + 'px';
  document.body.appendChild(cv);

  const datasets = [
    { data: toXY(p.meanI), borderColor: '#ff0000', borderWidth: 3.5, borderDash: [11, 5], cubicInterpolationMode: 'monotone' },
    { data: toXY(p.meanS), borderColor: '#008000', borderWidth: 3.5, borderDash: [11, 5], cubicInterpolationMode: 'monotone' }
  ];
  const n = Math.max(p.S.length, p.I.length);
  for (let i = 0; i < n; i++) {
    if (p.I[i]) datasets.push({ data: toXY(p.I[i]), borderColor: I_LINE, borderWidth: 2.2 });
    if (p.S[i]) datasets.push({ data: toXY(p.S[i]), borderColor: S_LINE, borderWidth: 2.2 });
  }

  const fontSize = xH ? 24.5 : 25;
  new Chart(cv, {
    type: 'line',
    data: { datasets },
    options: {
      responsive: false,
      animation: false,
      events: [],
      layout: { padding: pad },
      elements: {
        point: { radius: 0 },
        line: { tension: 0, fill: false, borderJoinStyle: 'round' }
      },
      plugins: { legend: { display: false }, tooltip: { enabled: false } },
      scales: {
        x: {
          type: 'linear', min: -0.25, max: 5.25,
          afterBuildTicks: s => { s.ticks = p.xTicks.map(v => ({ value: v })); },
          afterFit: s => fixBox(s, xH),
          grid: { color: GRID, lineWidth: 1.3, drawTicks: false },
          border: { display: false },
          ticks: { display: xH > 0, autoSkip: false, maxRotation: 0, padding: 7,
                   font: { size: fontSize }, callback: v => String(v) }
        },
        y: {
          type: 'linear', position: p.ySide, min: p.yMin, max: p.yMax,
          afterBuildTicks: s => { s.ticks = p.yTicks.map(v => ({ value: v })); },
          afterFit: s => fixBox(s, yW),
          grid: { color: GRID, lineWidth: 1.3, drawTicks: false },
          border: { display: false },
          ticks: { autoSkip: false, padding: p.ySide === 'left' ? 8 : 7,
                   font: { size: fontSize }, callback: v => String(v) }
        }
      }
    },
    plugins: [framePlugin]
  });
}

const topHigh = { t: 77, b: 296, ySide: 'left', yMin: -3.9, yMax: 78.9, yTicks: yTicksHigh, xTicks: xTicksTop };
const topLow = { t: 77, b: 296, ySide: 'right', yMin: -27.8, yMax: 564, yTicks: yTicksLow, xTicks: xTicksTop };

makePanel({ ...topHigh, l: 59, r: 159, S: aHighS, I: aHighI, meanS: aHighMeanS, meanI: aHighMeanI });
makePanel({ ...topLow, l: 176, r: 276, S: aLowS, I: aLowI, meanS: aLowMeanS, meanI: aLowMeanI });
makePanel({ ...topHigh, l: 360, r: 461, S: bHighS, I: bHighI, meanS: bHighMeanS, meanI: bHighMeanI });
makePanel({ ...topLow, l: 477, r: 577, S: bLowS, I: bLowI, meanS: bLowMeanS, meanI: bLowMeanI });
makePanel({ ...topHigh, l: 662, r: 762, S: cHighS, I: cHighI, meanS: cHighMeanS, meanI: cHighMeanI });
makePanel({ ...topLow, l: 780, r: 879, S: cLowS, I: cLowI, meanS: cLowMeanS, meanI: cLowMeanI });
makePanel({ t: 377, b: 629, l: 59, r: 432, ySide: 'left', yMin: -8.3, yMax: 187.2, yTicks: yTicksGlobalHigh, xTicks: xTicksBottom,
  S: gHighS, I: gHighI, meanS: gHighMeanS, meanI: gHighMeanI });
makePanel({ t: 377, b: 629, l: 507, r: 880, ySide: 'left', yMin: -69, yMax: 1556, yTicks: yTicksGlobalLow, xTicks: xTicksBottom,
  S: gLowS, I: gLowI, meanS: gLowMeanS, meanI: gLowMeanI });
</script>
</body>
</html>
